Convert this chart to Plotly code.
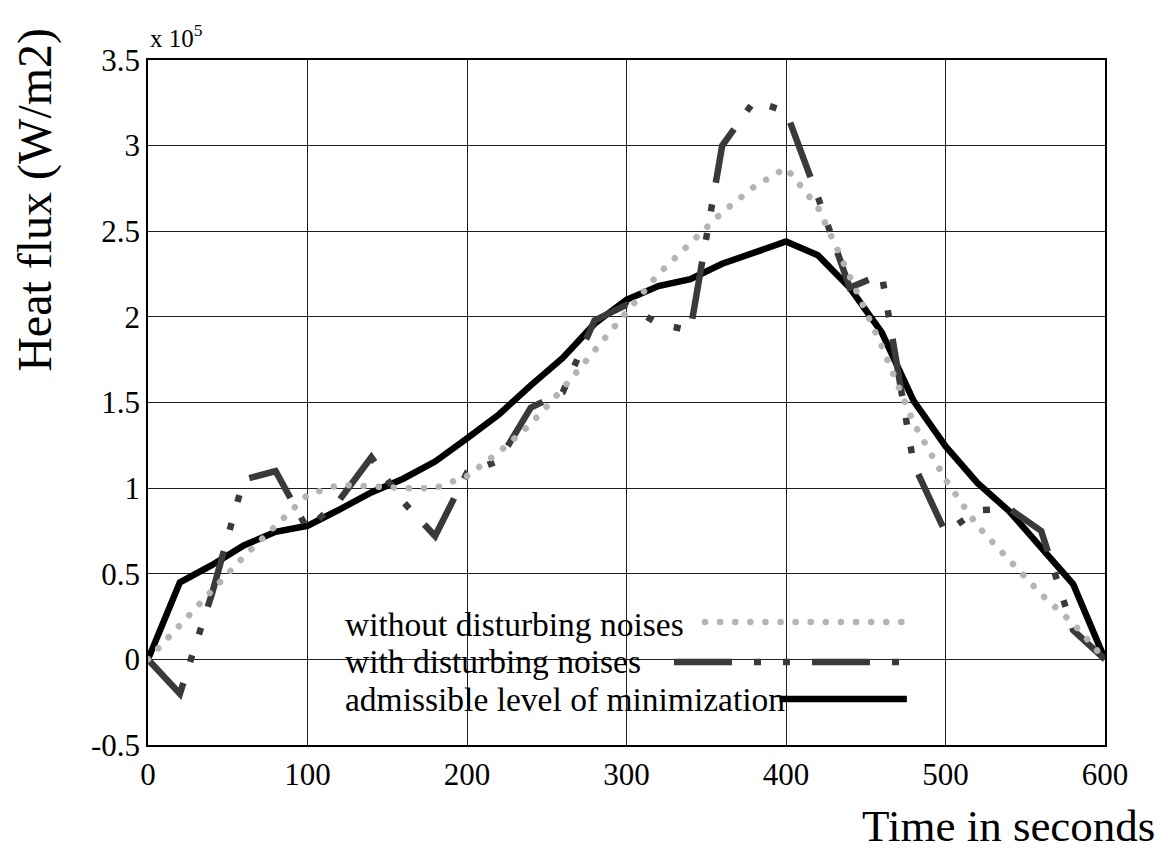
import plotly.graph_objects as go

# time axis (seconds)
time_s = [0, 20, 40, 60, 80, 100, 120, 140, 160, 180, 200, 220, 240, 260, 280, 300,
          320, 340, 360, 380, 400, 420, 440, 460, 480, 500, 520, 540, 560, 580, 600]

# heat flux values in units of 1e5 W/m2
without_noise = [0, 0.20, 0.39, 0.60, 0.78, 0.96, 1.02, 1.01, 1.00, 1.00, 1.07, 1.21, 1.375, 1.58,
                 1.80, 2.02, 2.25, 2.43, 2.61, 2.76, 2.87, 2.64, 2.24, 1.83, 1.38, 1.05, 0.78,
                 0.575, 0.38, 0.21, 0]
with_noise = [0, -0.20, 0.38, 1.05, 1.10, 0.76, 0.93, 1.18, 0.92, 0.72, 1.09, 1.16, 1.47, 1.56,
              1.98, 2.07, 1.96, 1.92, 3.00, 3.26, 3.20, 2.70, 2.17, 2.25, 1.14, 0.74, 0.87,
              0.88, 0.75, 0.17, 0]
admissible = [0, 0.45, 0.55, 0.665, 0.745, 0.78, 0.875, 0.975, 1.055, 1.155, 1.29, 1.43, 1.60,
              1.76, 1.96, 2.10, 2.18, 2.22, 2.31, 2.37, 2.44, 2.36, 2.17, 1.91, 1.51, 1.245,
              1.03, 0.865, 0.65, 0.44, 0]

series_names = ["without disturbing noises", "with disturbing noises",
                "admissible level of minimization"]

x_ticks = [0, 100, 200, 300, 400, 500, 600]
y_ticks = [-0.5, 0, 0.5, 1, 1.5, 2, 2.5, 3, 3.5]
y_tick_text = ["-0.5", "0", "0.5", "1", "1.5", "2", "2.5", "3", "3.5"]

FONT = "Liberation Serif"
GRAY = "rgb(180, 180, 180)"
DARK = "rgb(58, 58, 58)"
DASHDOT = "58px,22px,7px,22px,7px,22px"

fig = go.Figure()
fig.add_trace(go.Scatter(x=time_s, y=admissible, mode="lines", name=series_names[2],
                         line=dict(color="black", width=6.5)))
fig.add_trace(go.Scatter(x=time_s, y=with_noise, mode="lines", name=series_names[1],
                         line=dict(color=DARK, width=6.5, dash=DASHDOT)))
fig.add_trace(go.Scatter(x=time_s, y=without_noise, mode="lines", name=series_names[0],
                         line=dict(color=GRAY, width=6.5, dash="6px,9px")))

axis_common = dict(showgrid=True, gridcolor="rgb(30,30,30)", gridwidth=1,
                   showline=True, linecolor="black", linewidth=1.5, mirror=True,
                   zeroline=False, ticks="", tickfont=dict(family=FONT, size=31, color="black"))

fig.update_xaxes(range=[0, 600], tickvals=x_ticks, ticklabelstandoff=1, **axis_common)
fig.update_yaxes(range=[-0.5, 3.5], tickvals=y_ticks, ticktext=y_tick_text,
                 ticklabelstandoff=0, **axis_common)

# manual legend (white box, texts, line samples)
shapes = [dict(type="rect", xref="paper", yref="paper", x0=0.2006, x1=0.6646, y0=0.041, y1=0.2146,
               fillcolor="white", line=dict(width=0), layer="between")]
legend_rows = [
    (0.1752, 0.1796, 0.582, 0.791, dict(color=GRAY, width=6.5, dash="6px,9px")),
    (0.1212, 0.1212, 0.5496, 0.791, dict(color=DARK, width=6.5, dash=DASHDOT)),
    (0.0657, 0.0672, 0.660, 0.793, dict(color="black", width=6.5)),
]
annotations = []
for name, (ty, ly, lx0, lx1, lstyle) in zip(series_names, legend_rows):
    annotations.append(dict(text=name, xref="paper", yref="paper", x=0.2038, y=ty,
                            xanchor="left", yanchor="middle", showarrow=False,
                            font=dict(family=FONT, size=33.5, color="black")))
    shapes.append(dict(type="line", xref="paper", yref="paper", x0=lx0, x1=lx1, y0=ly, y1=ly,
                       line=lstyle, layer="above"))

annotations += [
    dict(text="x 10<sup>5</sup>", xref="paper", yref="paper", x=0.0, y=1.035,
         xanchor="left", yanchor="middle", showarrow=False,
         font=dict(family=FONT, size=25, color="black")),
    dict(text="Time in seconds", xref="paper", yref="paper", x=1.0543, y=-0.118,
         xanchor="right", yanchor="middle", showarrow=False,
         font=dict(family=FONT, size=45, color="black")),
    dict(text="Heat flux (W/m2)", xref="paper", yref="paper", x=-0.118, y=0.796,
         xanchor="center", yanchor="middle", textangle=-90, showarrow=False,
         font=dict(family=FONT, size=48, color="black")),
]

fig.update_layout(width=1169, height=853, showlegend=False,
                  margin=dict(l=148, r=64, t=60, b=108),
                  paper_bgcolor="white", plot_bgcolor="white",
                  shapes=shapes, annotations=annotations)

post = """
document.documentElement.style.margin = '0';
document.body.style.margin = '0';
document.body.style.padding = '0';
var fixDots = function(){
  document.querySelectorAll('path').forEach(function(p){
    if (p.style && p.style.stroke === 'rgb(180, 180, 180)') {
      p.style.strokeLinecap = 'round';
      p.style.strokeDasharray = '0.1px,15px';
    }
  });
};
fixDots();
setTimeout(fixDots, 300);
"""
fig.write_html("out.html", post_script=post, config={"displayModeBar": False})
